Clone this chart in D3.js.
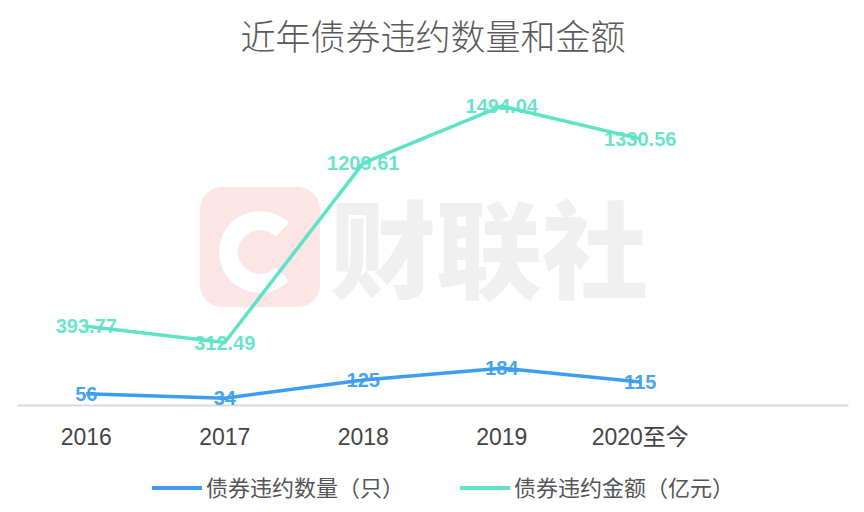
<!DOCTYPE html>
<html>
<head>
<meta charset="utf-8" />
<title>近年债券违约数量和金额</title>
<script src="https://cdn.jsdelivr.net/npm/d3@7/dist/d3.min.js"></script>
<style>
body { margin: 0; background: #fff; }
</style>
</head>
<body>
<div id="chart"></div>
<script>
const years = ["2016", "2017", "2018", "2019", "2020至今"];
const countVals = [56, 34, 125, 184, 115];              // 债券违约数量（只）
const amountVals = [393.77, 312.49, 1209.61, 1494.04, 1330.56]; // 债券违约金额（亿元）
const seriesNames = ["债券违约数量（只）", "债券违约金额（亿元）"];
const seriesColors = ["#3b9ef0", "#5fe3c8"];

const width = 864, height = 512;
const margin = {top: 85, right: 16, bottom: 107, left: 17};

const svg = d3.select("#chart").append("svg")
	.attr("width", width)
	.attr("height", height)
	.style("font-family", "'Liberation Sans', Arial, sans-serif");

// title
svg.append("text")
	.attr("x", 433)
	.attr("y", 50)
	.attr("text-anchor", "middle")
	.style("font-family", "'Noto Sans CJK SC', sans-serif")
	.style("font-weight", 300)
	.style("font-size", "35px")
	.attr("fill", "#5a5a5a")
	.text("近年债券违约数量和金额");

// watermark
const wm = svg.append("g").attr("class", "watermark");
wm.append("rect")
	.attr("x", 200).attr("y", 187)
	.attr("width", 120).attr("height", 120)
	.attr("rx", 22)
	.attr("fill", "#fbe5e5");
wm.append("path")
	.attr("transform", "translate(260,252)")
	.attr("d", d3.arc()
		.innerRadius(22)
		.outerRadius(41)
		.startAngle(Math.PI * 0.75)
		.endAngle(Math.PI * 2.25))
	.attr("fill", "#fff");
wm.append("text")
	.attr("x", 330)
	.attr("y", 290)
	.style("font-family", "'Noto Sans CJK SC', sans-serif")
	.style("font-weight", 900)
	.style("font-size", "106px")
	.attr("fill", "#f0f0f0")
	.text("财联社");

// scales: six bands, last left empty
const x = d3.scaleBand()
	.domain(years.concat([""]))
	.range([margin.left, width - margin.right]);
const xc = d => x(d) + x.bandwidth() / 2;
const y = d3.scaleLinear()
	.domain([0, 1600])
	.range([height - margin.bottom, margin.top]);

// x axis
const xAxis = svg.append("g")
	.attr("transform", "translate(0," + (height - margin.bottom) + ")")
	.call(d3.axisBottom(x).tickSize(0).tickPadding(24).tickFormat(d => d));
xAxis.select(".domain").attr("stroke", "#d9d9d9").attr("stroke-width", 2);
xAxis.selectAll("text")
	.style("font-family", "'Liberation Sans', 'Noto Sans CJK SC', sans-serif")
	.style("font-size", "23px")
	.attr("fill", "#444");

const line = d3.line()
	.x((d, i) => xc(years[i]))
	.y(d => y(d));

const series = [countVals, amountVals];
series.forEach(function(vals, k) {
	svg.append("path")
		.datum(vals)
		.attr("fill", "none")
		.attr("stroke", seriesColors[k])
		.attr("stroke-width", 3.5)
		.attr("stroke-linejoin", "round")
		.attr("d", line);
});

series.forEach(function(vals, k) {
	svg.append("g").selectAll("text")
		.data(vals)
		.enter()
		.append("text")
			.attr("x", (d, i) => xc(years[i]))
			.attr("y", d => y(d))
			.attr("dy", "0.36em")
			.attr("text-anchor", "middle")
			.style("font-weight", "bold")
			.style("font-size", "20px")
			.attr("fill", seriesColors[k])
			.attr("fill-opacity", 0.95)
			.text(d => d);
});

// legend
const legendX = [152, 460];
const legend = svg.append("g").attr("transform", "translate(0,488)");
seriesNames.forEach(function(name, k) {
	legend.append("line")
		.attr("x1", legendX[k]).attr("x2", legendX[k] + 50)
		.attr("y1", 0).attr("y2", 0)
		.attr("stroke", seriesColors[k])
		.attr("stroke-width", 4);
	legend.append("text")
		.attr("x", legendX[k] + 54)
		.attr("y", 0)
		.attr("dy", "0.35em")
		.style("font-family", "'Noto Sans CJK SC', sans-serif")
		.style("font-size", "22px")
		.attr("fill", "#555")
		.text(name);
});
</script>
</body>
</html>
